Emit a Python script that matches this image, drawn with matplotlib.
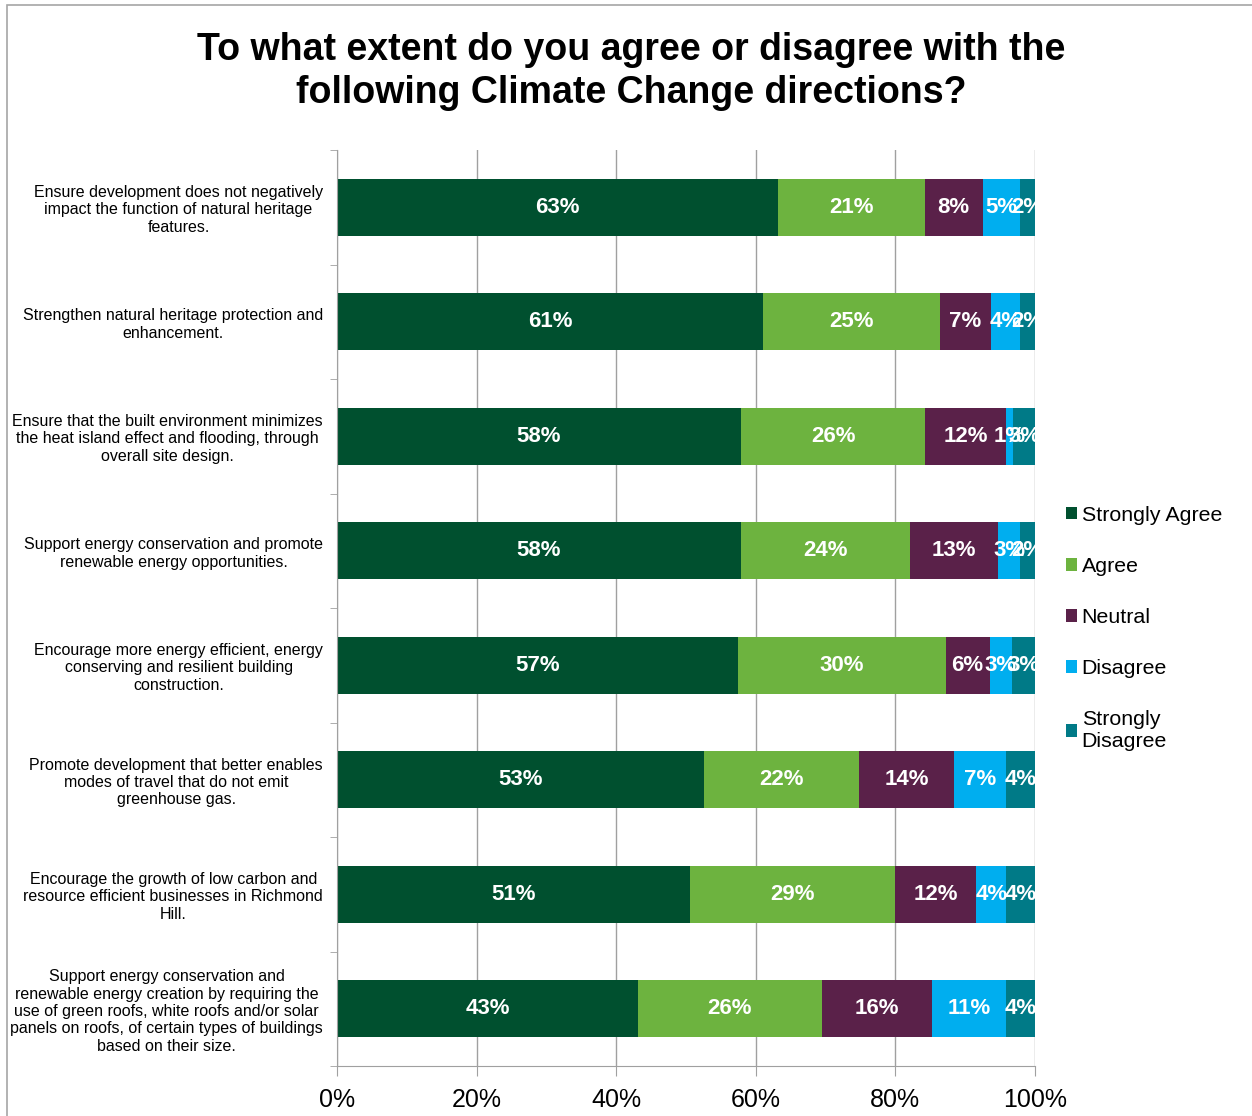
import numpy as np
import matplotlib.pyplot as plt
from matplotlib.patches import Rectangle

plt.rcParams['font.family'] = ['Liberation Sans', 'DejaVu Sans']

# Survey statements (top to bottom)
statements = [
    'Ensure development does not negatively\nimpact the function of natural heritage\nfeatures.',
    'Strengthen natural heritage protection and\nenhancement.',
    'Ensure that the built environment minimizes\nthe heat island effect and flooding, through\noverall site design.',
    'Support energy conservation and promote\nrenewable energy opportunities.',
    'Encourage more energy efficient, energy\nconserving and resilient building\nconstruction.',
    'Promote development that better enables\nmodes of travel that do not emit\ngreenhouse gas.',
    'Encourage the growth of low carbon and\nresource efficient businesses in Richmond\nHill.',
    'Support energy conservation and\nrenewable energy creation by requiring the\nuse of green roofs, white roofs and/or solar\npanels on roofs, of certain types of buildings\nbased on their size.',
]

# Shares in percent
strongly_agree = [63.2, 61.0, 57.9, 57.9, 57.4, 52.6, 50.6, 43.1]
agree = [21.0, 25.4, 26.4, 24.2, 29.8, 22.2, 29.4, 26.4]
neutral = [8.3, 7.3, 11.5, 12.6, 6.3, 13.6, 11.6, 15.8]
disagree = [5.3, 4.2, 1.1, 3.2, 3.2, 7.4, 4.3, 10.6]
strongly_disagree = [2.2, 2.1, 3.1, 2.1, 3.3, 4.2, 4.1, 4.1]

series = ['Strongly Agree', 'Agree', 'Neutral', 'Disagree', 'Strongly\nDisagree']
colors = ['#00502F', '#6DB33F', '#5A2149', '#00AEEF', '#007A87']
values = [strongly_agree, agree, neutral, disagree, strongly_disagree]

fig = plt.figure(figsize=(12.52, 11.16), dpi=100)
ax = fig.add_axes([337 / 1252, 1 - 1066 / 1116, 698 / 1252, 916 / 1116])

# outer frame of the original chart area
fig.patches.append(Rectangle((7 / 1252, -0.1), 1.2, 1 - 5 / 1116 + 0.1, transform=fig.transFigure,
                             fill=False, edgecolor='#A6A6A6', linewidth=1.2))

y = np.arange(len(statements))
left = np.zeros(len(statements))
for name, vals, col in zip(series, values, colors):
    vals = np.array(vals)
    ax.barh(y, vals, left=left, height=0.5, color=col, label=name, zorder=2)
    for yi, l, v in zip(y, left, vals):
        ax.text(l + v / 2, yi, f'{round(v):.0f}%', ha='center', va='center', color='white',
                fontsize=16, fontweight='bold', zorder=3, clip_on=True)
    left += vals

ax.set_xlim(0, 100)
ax.set_ylim(len(statements) - 0.5, -0.5)
ax.set_xticks(np.arange(0, 101, 20))
ax.set_xticklabels([f'{t}%' for t in range(0, 101, 20)], fontsize=18)
ax.tick_params(axis='x', length=7, color='#A0A0A0', pad=8.5)
ax.set_yticks(y)
ax.set_yticklabels(statements, fontsize=11.5, ha='right', multialignment='center', linespacing=1.2)
ax.tick_params(axis='y', length=0, pad=10)
ax.set_yticks(np.arange(-0.5, len(statements), 1), minor=True)
ax.tick_params(axis='y', which='minor', length=5, color='#A0A0A0')

ax.grid(axis='x', color='#A0A0A0', linewidth=1, zorder=0)
ax.set_axisbelow(True)
for side in ['top', 'right']:
    ax.spines[side].set_visible(False)
for side in ['left', 'bottom']:
    ax.spines[side].set_color('#A0A0A0')

fig.text(631 / 1252, 1 - 71.5 / 1116,
         'To what extent do you agree or disagree with the\nfollowing Climate Change directions?',
         ha='center', va='center', fontsize=27, fontweight='bold', linespacing=1.23)

fig.legend(loc='upper left', bbox_to_anchor=(1057 / 1252, 1 - 497 / 1116), frameon=False,
           fontsize=15.4, handlelength=0.55, handleheight=0.55, handletextpad=0.2,
           labelspacing=1.5, borderaxespad=0)

plt.savefig('out.png', dpi=100)
